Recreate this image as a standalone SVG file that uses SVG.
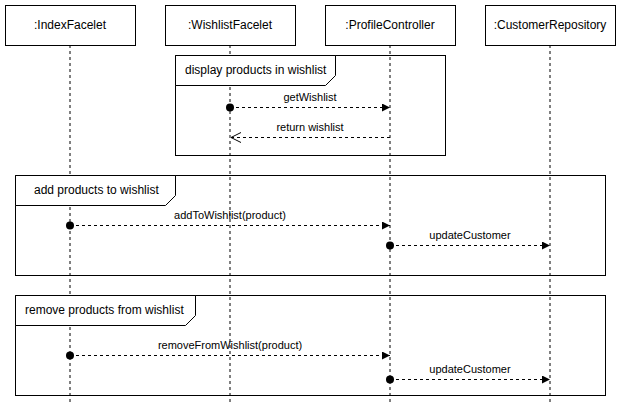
<svg xmlns="http://www.w3.org/2000/svg" width="622" height="413" viewBox="0 0 622 413">
<style>
text{font-family:"Liberation Sans",Arial,sans-serif;fill:#000}
.hd{font-size:12px;text-anchor:middle}
.lb{font-size:12px}
.ml{font-size:11px;text-anchor:middle}
.box{fill:#fff;stroke:#000;stroke-width:1}
.life{stroke:#000;stroke-dasharray:3 3;fill:none}
.frame{fill:none;stroke:#000}
.tag{fill:#fff;stroke:#000}
.msg{stroke:#000;stroke-dasharray:3 3;fill:none}
</style>
<defs>
<marker id="fa" markerWidth="10" markerHeight="10" refX="8" refY="4" orient="auto" markerUnits="userSpaceOnUse"><path d="M0,0 L8,4 L0,8 Z" fill="#000"/></marker>
<marker id="oa" markerWidth="12" markerHeight="12" refX="10" refY="5" orient="auto" markerUnits="userSpaceOnUse"><path d="M0,0 L10,5 L0,10" fill="none" stroke="#000"/></marker>
</defs>
<g id="lifelines">
<g id="indexFacelet"><line class="life" x1="70" y1="45" x2="70" y2="405"/><rect class="box" x="5.5" y="5.5" width="130" height="40"/><text class="hd" x="70" y="29">:IndexFacelet</text></g>
<g id="wishlistFacelet"><line class="life" x1="230" y1="45" x2="230" y2="405"/><rect class="box" x="165.5" y="5.5" width="130" height="40"/><text class="hd" x="230" y="29">:WishlistFacelet</text></g>
<g id="profileController"><line class="life" x1="390" y1="45" x2="390" y2="405"/><rect class="box" x="325.5" y="5.5" width="130" height="40"/><text class="hd" x="390" y="29">:ProfileController</text></g>
<g id="customerRepository"><line class="life" x1="550" y1="45" x2="550" y2="405"/><rect class="box" x="485.5" y="5.5" width="130" height="40"/><text class="hd" x="550" y="29">:CustomerRepository</text></g>
</g>
<g id="frame-display">
<rect class="frame" x="175.5" y="55.5" width="270" height="100"/>
<path class="tag" d="M175.5,55.5 H335.5 V75.5 L325.5,85.5 H175.5 Z"/>
<text class="lb" x="185" y="74">display products in wishlist</text>
</g>
<g id="frame-add">
<rect class="frame" x="15.5" y="175.5" width="590" height="100"/>
<path class="tag" d="M15.5,175.5 H175.5 V195.5 L165.5,205.5 H15.5 Z"/>
<text class="lb" x="34" y="194">add products to wishlist</text>
</g>
<g id="frame-remove">
<rect class="frame" x="15.5" y="295.5" width="590" height="100"/>
<path class="tag" d="M15.5,295.5 H195.5 V315.5 L185.5,325.5 H15.5 Z"/>
<text class="lb" x="25" y="314">remove products from wishlist</text>
</g>
<g id="connectors">
<circle cx="230" cy="107.5" r="4"/><line class="msg" x1="230" y1="107.5" x2="390" y2="107.5" marker-end="url(#fa)"/>
<text class="ml" x="310" y="101">getWishlist</text>
<line class="msg" x1="390" y1="137.5" x2="231" y2="137.5" marker-end="url(#oa)"/>
<text class="ml" x="310" y="131">return wishlist</text>
<circle cx="70" cy="225.5" r="4"/><line class="msg" x1="70" y1="225.5" x2="390" y2="225.5" marker-end="url(#fa)"/>
<text class="ml" x="230" y="219">addToWishlist(product)</text>
<circle cx="390" cy="245.5" r="4"/><line class="msg" x1="390" y1="245.5" x2="550" y2="245.5" marker-end="url(#fa)"/>
<text class="ml" x="470" y="239">updateCustomer</text>
<circle cx="70" cy="355.5" r="4"/><line class="msg" x1="70" y1="355.5" x2="390" y2="355.5" marker-end="url(#fa)"/>
<text class="ml" x="230" y="349">removeFromWishlist(product)</text>
<circle cx="390" cy="379.5" r="4"/><line class="msg" x1="390" y1="379.5" x2="550" y2="379.5" marker-end="url(#fa)"/>
<text class="ml" x="470" y="373">updateCustomer</text>
</g>
</svg>
